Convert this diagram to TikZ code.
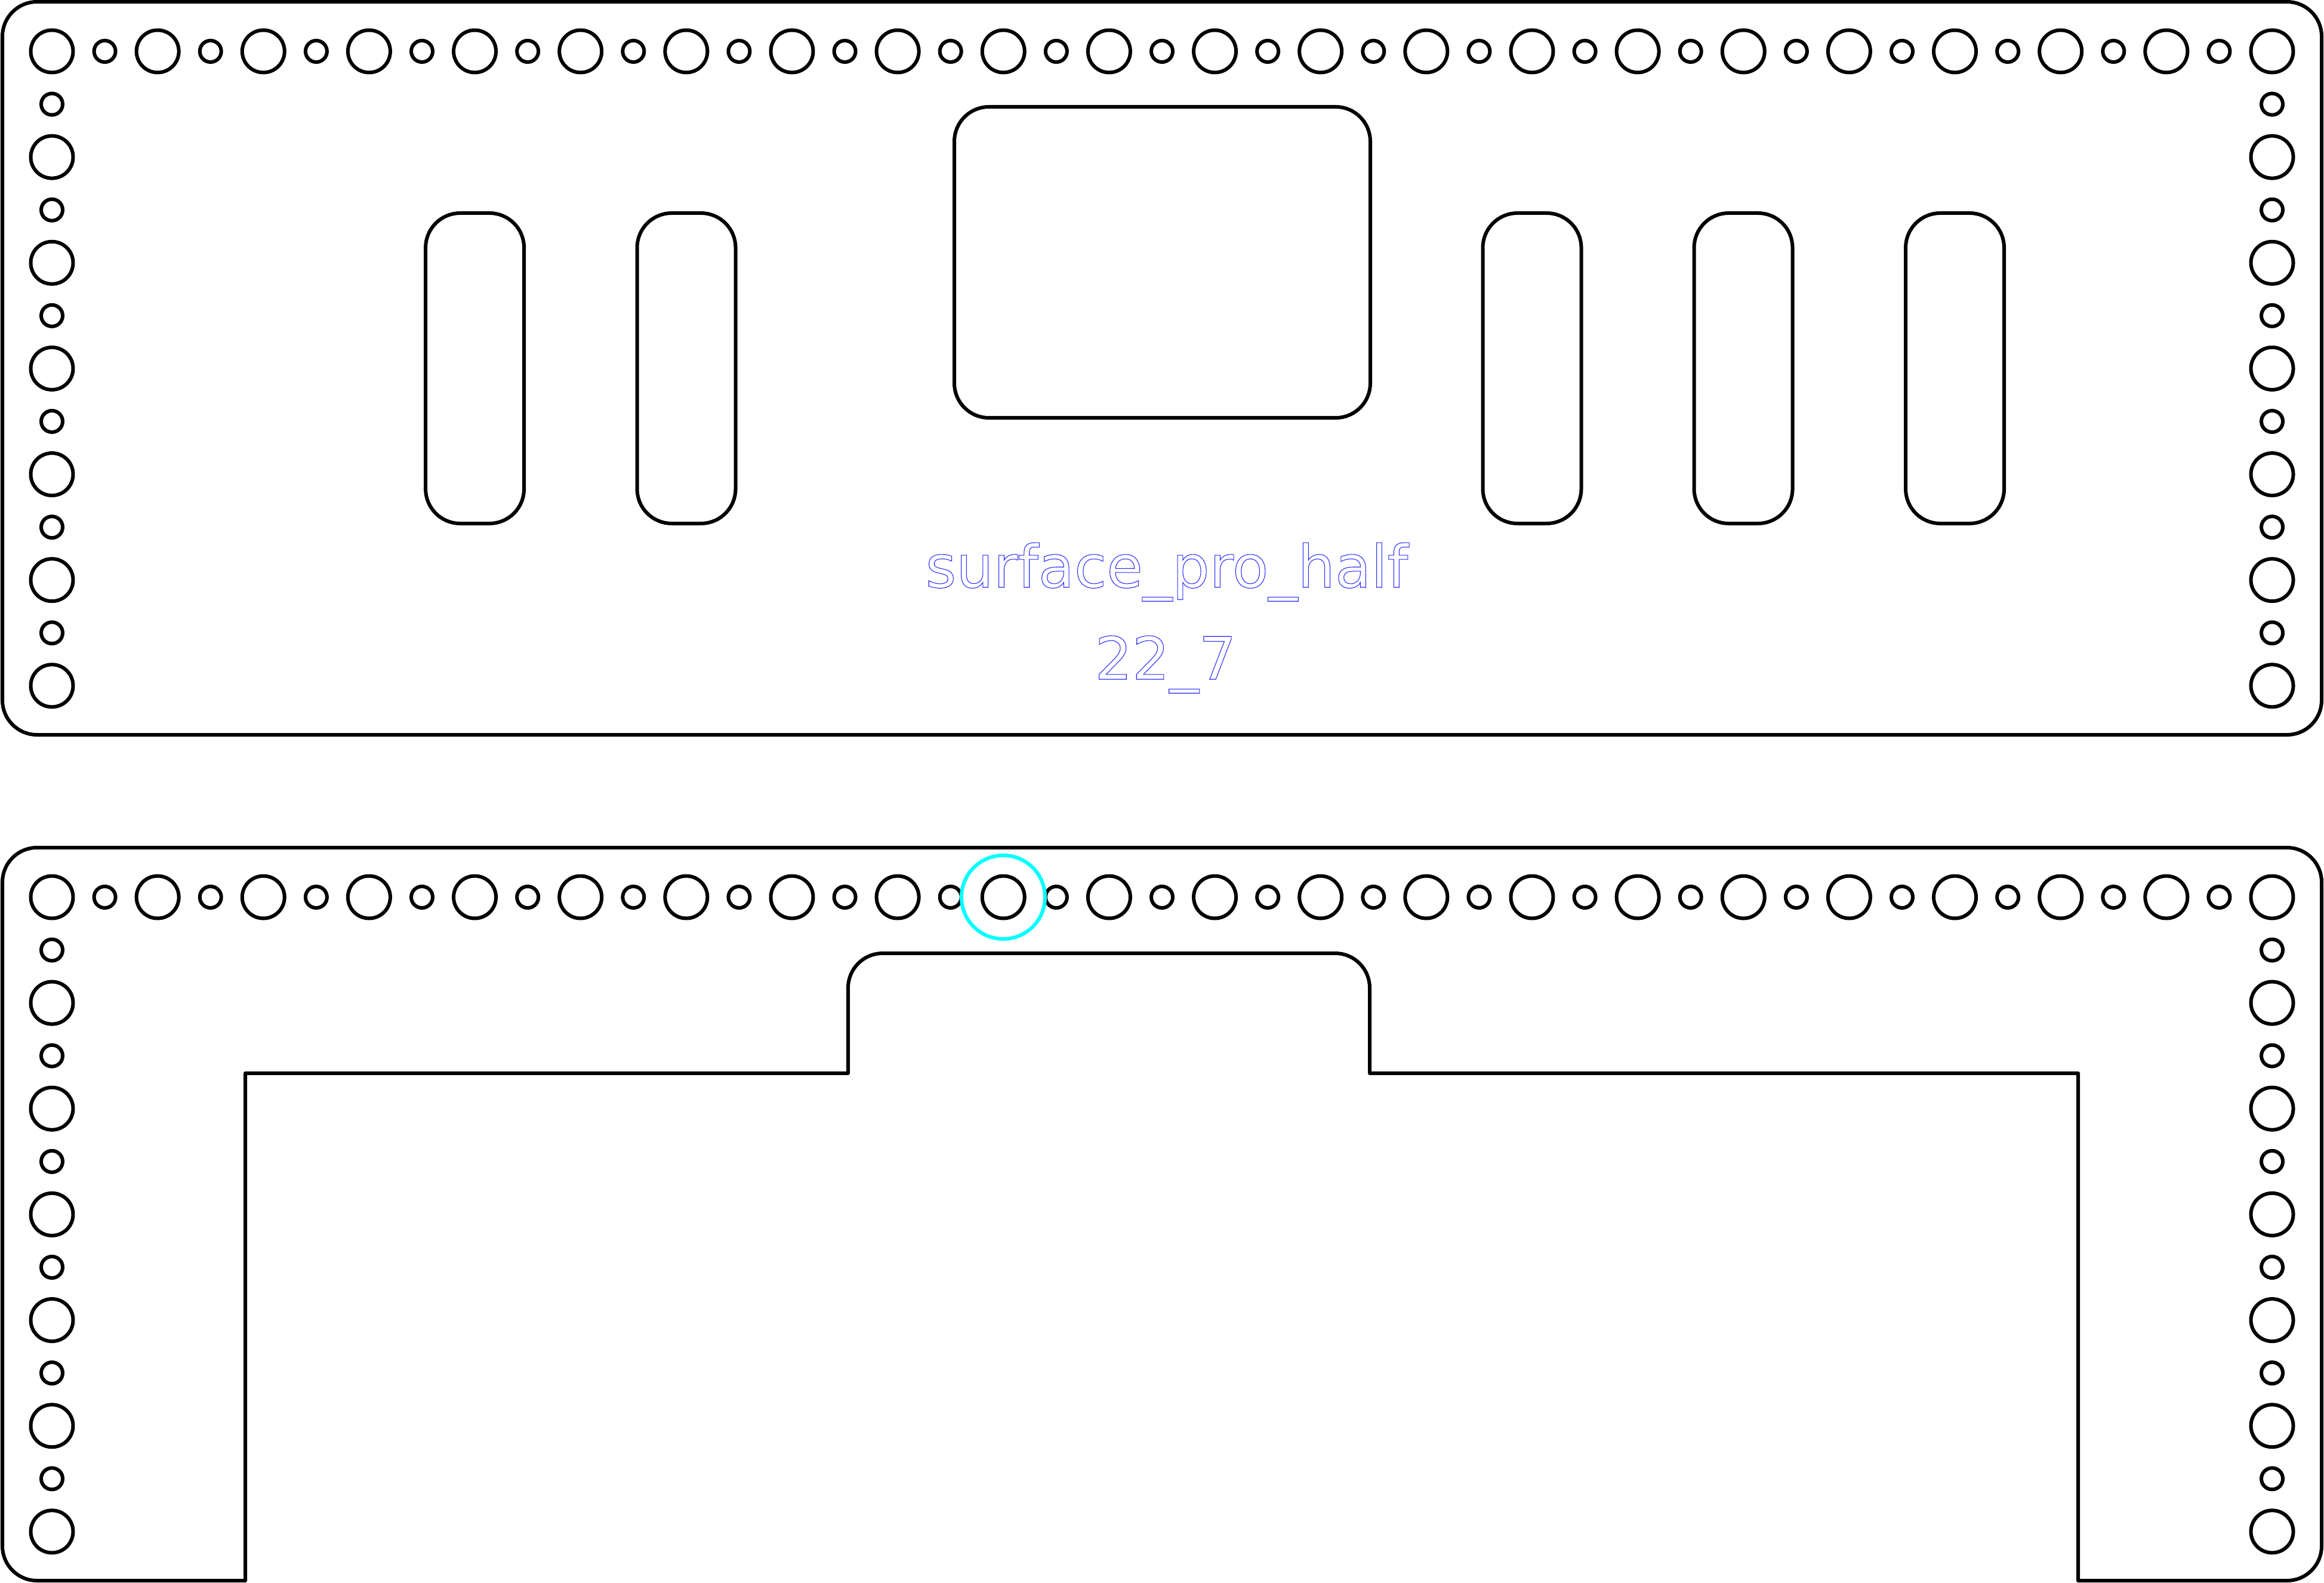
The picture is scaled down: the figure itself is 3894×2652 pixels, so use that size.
\documentclass[tikz,border=0pt]{standalone}
\usepackage{fontspec}
\newfontfamily\platefont{DejaVu Sans}
\newcommand{\outlinetext}{\special{pdf: code 1 Tr 0.3 w}}
\definecolor{markcyan}{RGB}{0,255,255}
\definecolor{labelblue}{RGB}{40,40,255}

\begin{document}
\begin{tikzpicture}[x=0.01cm,y=-0.01cm,
  cutline/.style={line width=0.06cm,black,line join=round},
  pocket/.style={cutline,rounded corners=0.58cm},
  marker/.style={line width=0.06cm,markcyan},
  platelabel/.style={anchor=base,inner sep=0pt,text=labelblue,font=\platefont\fontsize{28}{34}\selectfont\outlinetext}]
\useasboundingbox (0,0) rectangle (3894,2652);
% top plate
\draw[pocket] (4,3) rectangle (3890,1231);
\foreach \slotx in {795.6,1150,2567,2921,3275.5}
  \draw[pocket] (\slotx-82.5,357) rectangle (\slotx+82.5,877);
\draw[pocket] (1599,179) rectangle (2296,700);
\node (name) [platelabel] at (1955,984) {surface\_pro\_half};
\node (size) [platelabel] at (1953,1138) {22\_7};
% bottom plate
\draw[cutline] (411,2648) [rounded corners=0.58cm] -- (4,2648) -- (4,1420) -- (3890,1420) -- (3890,2648)
  [sharp corners] -- (3482,2648) -- (3482,1798) -- (2295,1798) [rounded corners=0.58cm] -- (2295,1597) -- (1421,1597)
  [sharp corners] -- (1421,1798) -- (411,1798) -- cycle;
% holes, both plates
\foreach \rowy in {86,1503} {
  \foreach \i in {0,...,21}
    \draw[cutline] (87+\i*177.14,\rowy) circle[radius=35.5];
  \foreach \i in {0,...,20}
    \draw[cutline] (175.6+\i*177.14,\rowy) circle[radius=18];
  \foreach \colx in {87,3807} {
    \foreach \i in {1,...,6}
      \draw[cutline] (\colx,\rowy+\i*177.14) circle[radius=35.5];
    \foreach \i in {0,...,5}
      \draw[cutline] (\colx,\rowy+88.57+\i*177.14) circle[radius=18];
  }
}
\draw[marker] (1681,1503) circle[radius=70];
\end{tikzpicture}
\end{document}
